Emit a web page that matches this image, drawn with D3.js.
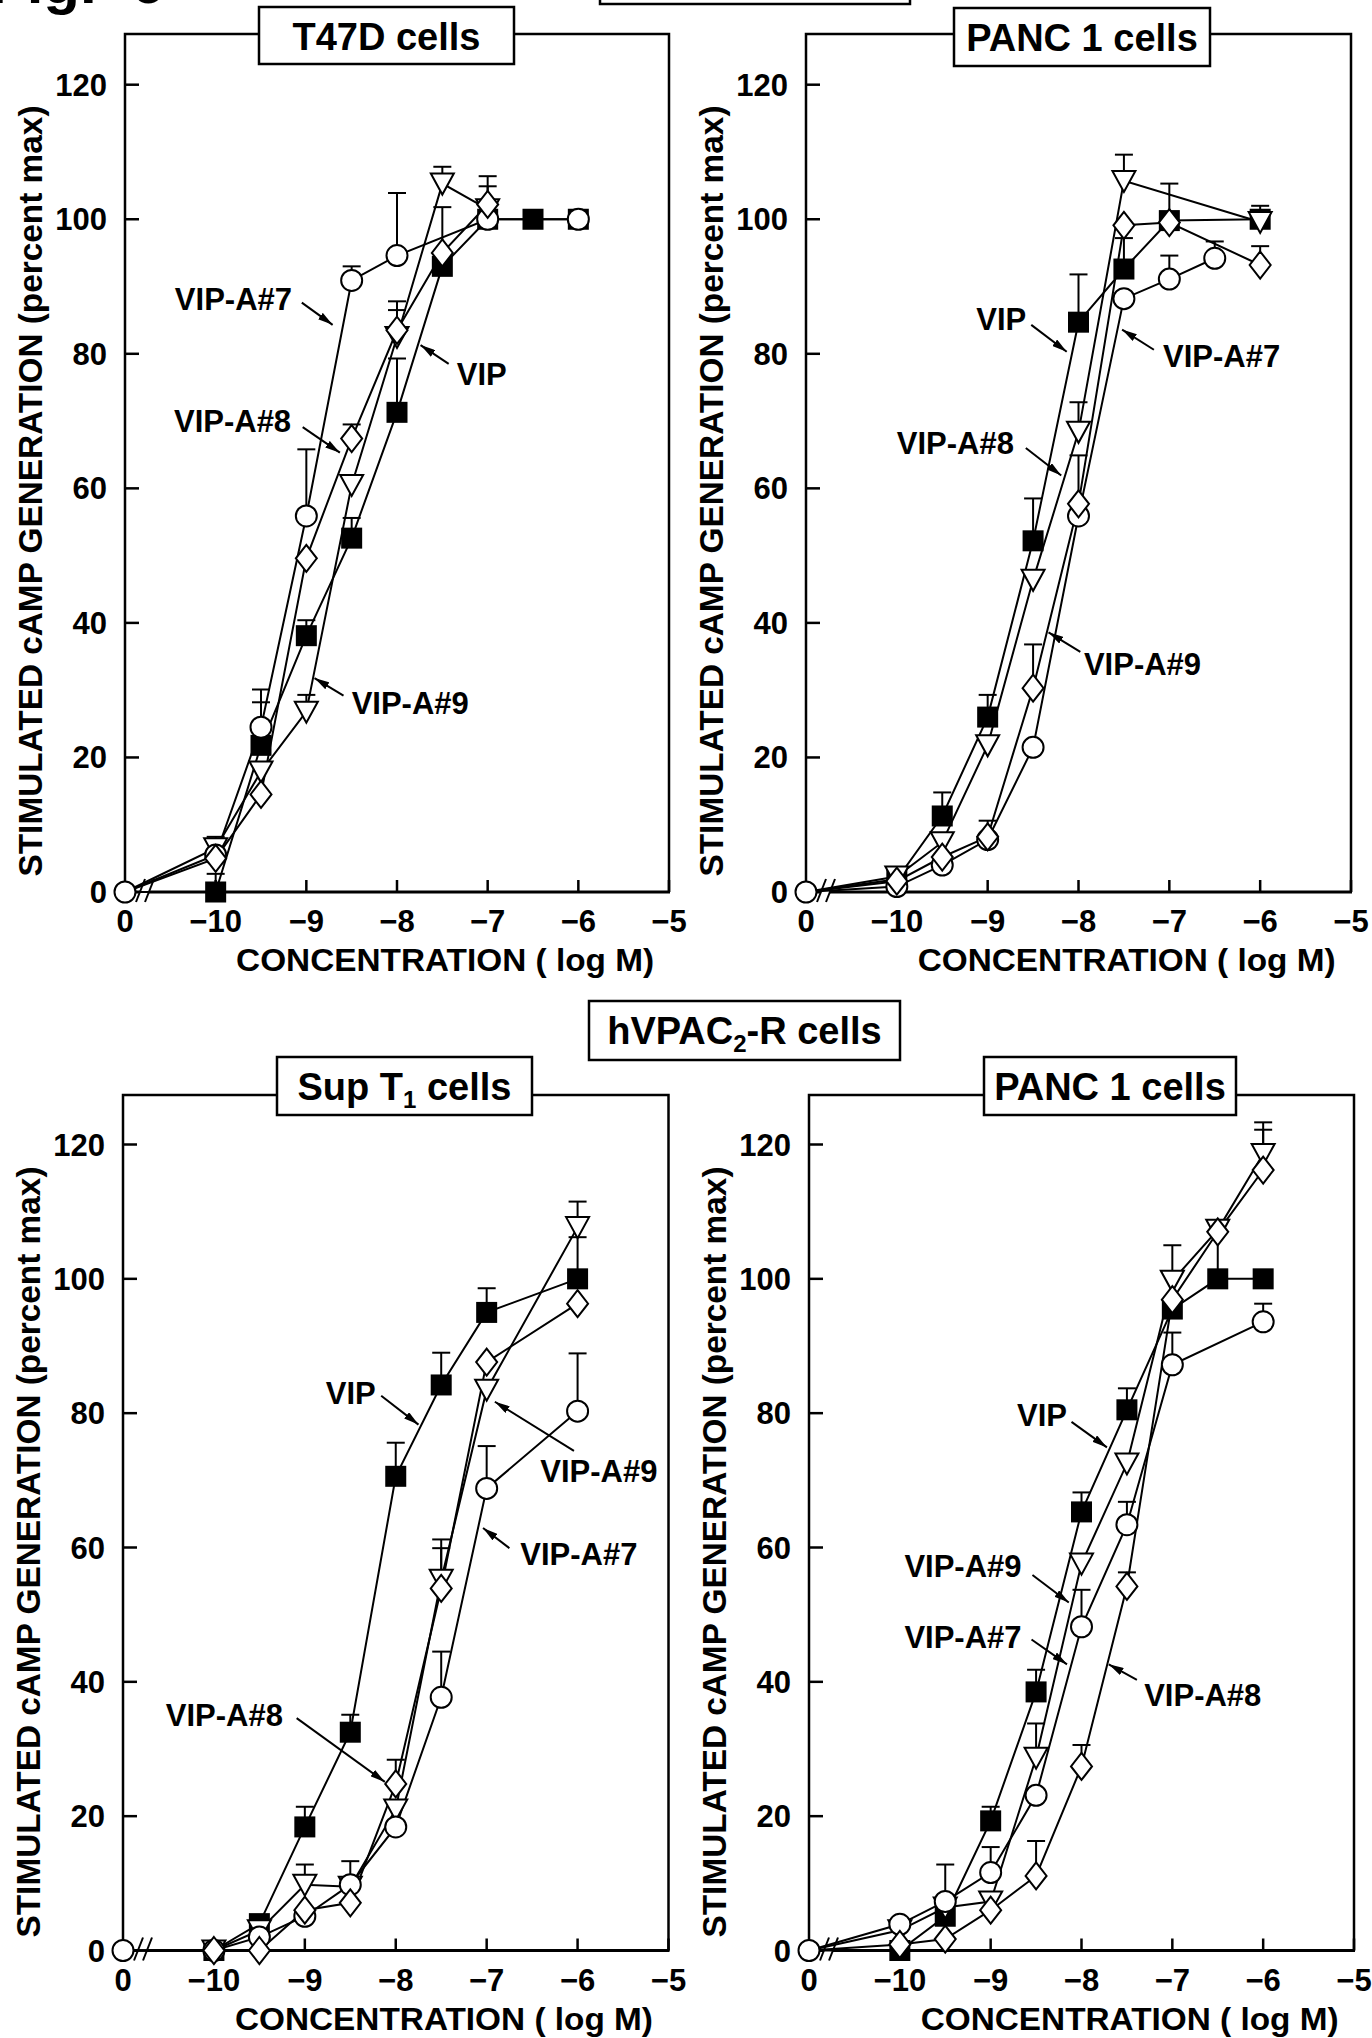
<!DOCTYPE html>
<html>
<head>
<meta charset="utf-8">
<script src="https://d3js.org/d3.v7.min.js"></script>
<style>
body { margin: 0; background: white; }
svg text { font-family: "Liberation Sans", Arial, sans-serif; font-weight: bold; fill: black; }
</style>
</head>
<body>
<svg width="1372" height="2038"></svg>
<script>
// concentrations (log M); the basal value sits at the "0" position (-11 on the scale)
var concs = [-10, -9.5, -9, -8.5, -8, -7.5, -7, -6.5, -6];
var basal = 0;
var xTickVals = [-11, -10, -9, -8, -7, -6, -5];
var xTickLabels = ["0", "\u221210", "\u22129", "\u22128", "\u22127", "\u22126", "\u22125"];
var yTickVals = [0, 20, 40, 60, 80, 100, 120];
var seriesNames = ["VIP", "VIP-A#7", "VIP-A#8", "VIP-A#9"];

// hVPAC1-R, T47D cells (null = no point)
var t47dVIP   = [0, 21.8, 38.1, 52.6, 71.3, 93, 100, 100, 100];
var t47dVIPE  = [2.7, 6.4, 2.3, 3, 8, 0, 0, 0, 0];
var t47dA7    = [5.5, 24.5, 55.9, 90.9, 94.6, null, 100, null, 100];
var t47dA7E   = [0, 5.6, 9.9, 2.1, 9.3, 0, 0, 0, 0];
var t47dA8    = [5, 14.5, 49.6, 67.4, 83.5, 95, 102.2, null, null];
var t47dA8E   = [0, 0, 0, 2.1, 4.3, 6.8, 4.2, 0, 0];
var t47dA9    = [6.5, 17.9, 26.8, 60.5, 82.5, 105.3, 101.5, null, null];
var t47dA9E   = [1.7, 0, 2.5, 0, 4, 2.5, 3.4, 0, 0];

// hVPAC1-R, PANC 1 cells
var panc1VIP  = [1.9, 11.3, 26, 52.2, 84.7, 92.6, 99.8, null, 100];
var panc1VIPE = [0, 3.5, 3.3, 6.3, 7.1, 4.6, 5.5, 0, 2];
var panc1A7   = [0.8, 4, 7.8, 21.5, 55.9, 88.2, 91.1, 94.2, null];
var panc1A7E  = [0, 0, 0, 0, 0, 0, 3.5, 2.5, 0];
var panc1A8   = [1.6, 5.2, 8.2, 30.3, 57.7, 99.1, 99.5, null, 93.2];
var panc1A8E  = [0, 0, 2.4, 6.5, 7.2, 0, 0, 0, 2.8];
var panc1A9   = [2.3, 7.4, 21.8, 46.4, 68.4, 105.7, null, null, 99.6];
var panc1A9E  = [0, 0, 0, 0, 4.4, 3.9, 0, 0, 0];

// hVPAC2-R, Sup T1 cells
var supVIP    = [0, 4, 18.4, 32.5, 70.6, 84.2, 95, null, 100];
var supVIPE   = [0, 0, 3, 2.6, 5, 4.8, 3.6, 0, 6.2];
var supA7     = [0, 2, 5.1, 9.8, 18.4, 37.7, 68.8, null, 80.3];
var supA7E    = [0, 0, 0, 3.5, 0, 6.8, 6.3, 0, 8.6];
var supA8     = [0, 0, 6, 7.1, 24.8, 53.9, 87.6, null, 96.3];
var supA8E    = [0, 0, 0, 0, 3.6, 6, 0, 0, 0];
var supA9     = [0, 3, 9.8, 9.5, 21, 55.2, 83.5, null, 107.7];
var supA9E    = [0, 0, 3, 0, 0, 6, 0, 0, 3.8];

// hVPAC2-R, PANC 1 cells
var panc2VIP  = [0, 5.1, 19.3, 38.5, 65.3, 80.5, 95.5, 100, 100];
var panc2VIPE = [0, 0, 2.1, 3.3, 2.9, 3.2, 0, 7, 0];
var panc2A7   = [3.9, 7.3, 11.6, 23.1, 48.2, 63.4, 87.2, null, 93.6];
var panc2A7E  = [0, 5.5, 3.8, 0, 5.5, 3.4, 4.8, 0, 2.7];
var panc2A8   = [0.9, 1.7, 6, 11.1, 27.4, 54.2, 96.9, 107, 116.2];
var panc2A8E  = [0, 0, 0, 5.2, 3.2, 2.1, 0, 0, 6];
var panc2A9   = [3, 6.4, 7.3, 28.7, 57.6, 72.5, 99.7, 107.3, 118.6];
var panc2A9E  = [0, 0, 0, 5.1, 0, 0, 5.3, 0, 4.7];

// layout of the four panels
var panels = [
  {title: ["T47D cells"], x0: 125, x1: 669, y0: 892, y120: 84.7, top: 34, box: [259, 7, 255, 57],
   vals: [t47dVIP, t47dA7, t47dA8, t47dA9], errs: [t47dVIPE, t47dA7E, t47dA8E, t47dA9E],
   notes: [["VIP-A#7", -10.45, 86.5, -9.05, 87.6, -8.71, 84.3],
           ["VIP", -7.34, 75.4, -7.43, 78.5, -7.74, 81.3],
           ["VIP-A#8", -10.46, 68.4, -9.04, 69.1, -8.63, 65.3],
           ["VIP-A#9", -8.5, 26.4, -8.59, 29.2, -8.91, 31.8]]},
  {title: ["PANC 1 cells"], x0: 806, x1: 1351, y0: 892, y120: 84.7, top: 34, box: [954, 8, 256, 58],
   vals: [panc1VIP, panc1A7, panc1A8, panc1A9], errs: [panc1VIPE, panc1A7E, panc1A8E, panc1A9E],
   notes: [["VIP", -9.125, 83.6, -8.52, 84.3, -8.13, 80.3],
           ["VIP-A#7", -7.07, 78.1, -7.17, 80.6, -7.52, 83.6],
           ["VIP-A#8", -10.0, 65.1, -8.58, 66.0, -8.19, 61.9],
           ["VIP-A#9", -7.94, 32.3, -7.98, 35.7, -8.33, 38.6]]},
  {title: ["Sup T", "1", " cells"], x0: 123, x1: 668.5, y0: 1950.5, y120: 1144.5, top: 1095, box: [277, 1057, 255, 58],
   vals: [supVIP, supA7, supA8, supA9], errs: [supVIPE, supA7E, supA8E, supA9E],
   notes: [["VIP", -8.77, 81.3, -8.16, 82.6, -7.75, 78.3],
           ["VIP-A#9", -6.41, 69.7, -6.04, 74.4, -6.91, 81.7],
           ["VIP-A#7", -6.63, 57.4, -6.75, 59.9, -7.04, 62.9],
           ["VIP-A#8", -10.53, 33.4, -9.09, 34.6, -8.12, 25.1]]},
  {title: ["PANC 1 cells"], x0: 809, x1: 1354, y0: 1950.5, y120: 1144.5, top: 1095, box: [984, 1057, 252, 58],
   vals: [panc2VIP, panc2A7, panc2A8, panc2A9], errs: [panc2VIPE, panc2A7E, panc2A8E, panc2A9E],
   notes: [["VIP", -8.71, 78.1, -8.11, 78.7, -7.72, 74.9],
           ["VIP-A#9", -9.95, 55.6, -8.54, 55.9, -8.14, 51.8],
           ["VIP-A#7", -9.95, 45.0, -8.55, 46.3, -8.16, 42.6],
           ["VIP-A#8", -7.31, 36.4, -7.39, 40.3, -7.70, 42.6]]}
];

var svg = d3.select("svg");

svg.append("defs").append("marker")
  .attr("id", "arrow")
  .attr("viewBox", "0 0 15 8")
  .attr("refX", 15).attr("refY", 4)
  .attr("markerWidth", 15).attr("markerHeight", 8)
  .attr("markerUnits", "userSpaceOnUse")
  .attr("orient", "auto")
  .append("path").attr("d", "M0,0L15,4L0,8Z").attr("fill", "black");

// figure label, mostly cut off at the top
svg.append("text").attr("x", -10).attr("y", 3).style("font-size", "60px")
  .text("Fig.").append("tspan").attr("x", 131).text("6");

// boxed label with optional subscript
function boxLabel(b, parts, size) {
  svg.append("rect").attr("x", b[0]).attr("y", b[1]).attr("width", b[2]).attr("height", b[3])
    .attr("fill", "white").attr("stroke", "black").attr("stroke-width", 2.5);
  var t = svg.append("text").attr("x", b[0] + b[2] / 2).attr("y", b[1] + 43)
    .attr("text-anchor", "middle").style("font-size", size + "px");
  t.append("tspan").text(parts[0]);
  if (parts.length > 1) {
    t.append("tspan").attr("dy", 8).style("font-size", "24px").text(parts[1]);
    t.append("tspan").attr("dy", -8).text(parts[2]);
  }
}

var symbols = ["square", "circle", "diamond", "triangle"];

function drawMarker(g, shape, cx, cy) {
  if (shape == "square") {
    g.append("rect").attr("x", cx - 10.5).attr("y", cy - 10.5).attr("width", 21).attr("height", 21)
      .attr("fill", "black");
  } else if (shape == "circle") {
    g.append("circle").attr("cx", cx).attr("cy", cy).attr("r", 10.5)
      .attr("fill", "white").attr("stroke", "black").attr("stroke-width", 2);
  } else if (shape == "diamond") {
    g.append("path").attr("d", "M" + cx + "," + (cy - 13.5) + "L" + (cx + 10.5) + "," + cy + "L" + cx + "," + (cy + 13.5) + "L" + (cx - 10.5) + "," + cy + "Z")
      .attr("fill", "white").attr("stroke", "black").attr("stroke-width", 2);
  } else {
    g.append("path").attr("d", "M" + (cx - 11.5) + "," + (cy - 10) + "L" + (cx + 11.5) + "," + (cy - 10) + "L" + cx + "," + (cy + 11) + "Z")
      .attr("fill", "white").attr("stroke", "black").attr("stroke-width", 2);
  }
}

panels.forEach(function(p) {
  var x = d3.scaleLinear().domain([-11, -5]).range([p.x0, p.x1]);
  var y = d3.scaleLinear().domain([0, 120]).range([p.y0, p.y120]);
  var g = svg.append("g");

  // frame: left axis, top, right
  g.append("path")
    .attr("d", "M" + p.x0 + "," + p.y0 + "V" + p.top + "H" + p.x1 + "V" + p.y0)
    .attr("fill", "none").attr("stroke", "black").attr("stroke-width", 2.5);
  // bottom axis with break
  var b1 = p.x0 + 15, b2 = p.x0 + 24;
  g.append("line").attr("x1", p.x0).attr("x2", b1).attr("y1", p.y0).attr("y2", p.y0)
    .attr("stroke", "black").attr("stroke-width", 3);
  g.append("line").attr("x1", b2).attr("x2", p.x1 + 1).attr("y1", p.y0).attr("y2", p.y0)
    .attr("stroke", "black").attr("stroke-width", 3);
  [b1, b2].forEach(function(bx) {
    g.append("line").attr("x1", bx - 4).attr("y1", p.y0 + 10).attr("x2", bx + 5).attr("y2", p.y0 - 13)
      .attr("stroke", "black").attr("stroke-width", 2);
  });

  // ticks
  yTickVals.forEach(function(v) {
    if (v > 0) g.append("line").attr("x1", p.x0).attr("x2", p.x0 + 14).attr("y1", y(v)).attr("y2", y(v))
      .attr("stroke", "black").attr("stroke-width", 2.5);
    g.append("text").attr("x", p.x0 - 18).attr("y", y(v) + 11).attr("text-anchor", "end")
      .style("font-size", "31px").text(v);
  });
  xTickVals.forEach(function(v, i) {
    if (v > -11) g.append("line").attr("x1", x(v)).attr("x2", x(v)).attr("y1", p.y0).attr("y2", p.y0 - 12)
      .attr("stroke", "black").attr("stroke-width", 2.5);
    g.append("text").attr("x", x(v)).attr("y", p.y0 + 40).attr("text-anchor", "middle")
      .style("font-size", "31px").text(xTickLabels[i]);
  });

  // axis titles
  g.append("text").attr("x", x(-7.47)).attr("y", p.y0 + 79).attr("text-anchor", "middle")
    .attr("textLength", 418).attr("lengthAdjust", "spacingAndGlyphs")
    .style("font-size", "31px").text("CONCENTRATION ( log M)");
  var yc = p.top + 457;
  g.append("text").attr("transform", "translate(" + (p.x0 - 83) + "," + yc + ") rotate(-90)")
    .attr("text-anchor", "middle").attr("textLength", 771).attr("lengthAdjust", "spacingAndGlyphs")
    .style("font-size", "33px").text("STIMULATED cAMP GENERATION (percent max)");

  // series points
  var pts = p.vals.map(function(vals, s) {
    var arr = [{c: -11, v: basal, e: 0, basal: true}];
    concs.forEach(function(c, i) {
      if (vals[i] != null) arr.push({c: c, v: vals[i], e: p.errs[s][i]});
    });
    return arr;
  });

  var line = d3.line().x(function(d) { return x(d.c); }).y(function(d) { return y(d.v); });
  pts.forEach(function(arr) {
    g.append("path").attr("d", line(arr)).attr("fill", "none")
      .attr("stroke", "black").attr("stroke-width", 2);
  });

  // error bars (upper)
  pts.forEach(function(arr) {
    arr.forEach(function(d) {
      if (d.e > 0) {
        g.append("line").attr("x1", x(d.c)).attr("x2", x(d.c)).attr("y1", y(d.v)).attr("y2", y(d.v + d.e))
          .attr("stroke", "black").attr("stroke-width", 2);
        g.append("line").attr("x1", x(d.c) - 9).attr("x2", x(d.c) + 9).attr("y1", y(d.v + d.e)).attr("y2", y(d.v + d.e))
          .attr("stroke", "black").attr("stroke-width", 2);
      }
    });
  });

  // markers: VIP, VIP-A#9, VIP-A#7, VIP-A#8 order
  [0, 3, 1, 2].forEach(function(s) {
    pts[s].forEach(function(d) {
      if (!d.basal) drawMarker(g, symbols[s], x(d.c), y(d.v));
    });
  });
  drawMarker(g, "circle", x(-11), y(basal));

  // labels with arrows
  p.notes.forEach(function(n) {
    g.append("text").attr("x", x(n[1])).attr("y", y(n[2])).style("font-size", "31px").text(n[0]);
    g.append("line").attr("x1", x(n[3])).attr("y1", y(n[4])).attr("x2", x(n[5])).attr("y2", y(n[6]))
      .attr("stroke", "black").attr("stroke-width", 2).attr("marker-end", "url(#arrow)");
  });

  boxLabel(p.box, p.title, 38);
});

// receptor group labels
boxLabel([600, -54, 310, 58], ["hVPAC", "1", "-R cells"], 38);
boxLabel([589, 1001, 311, 59], ["hVPAC", "2", "-R cells"], 38);
</script>
</body>
</html>
